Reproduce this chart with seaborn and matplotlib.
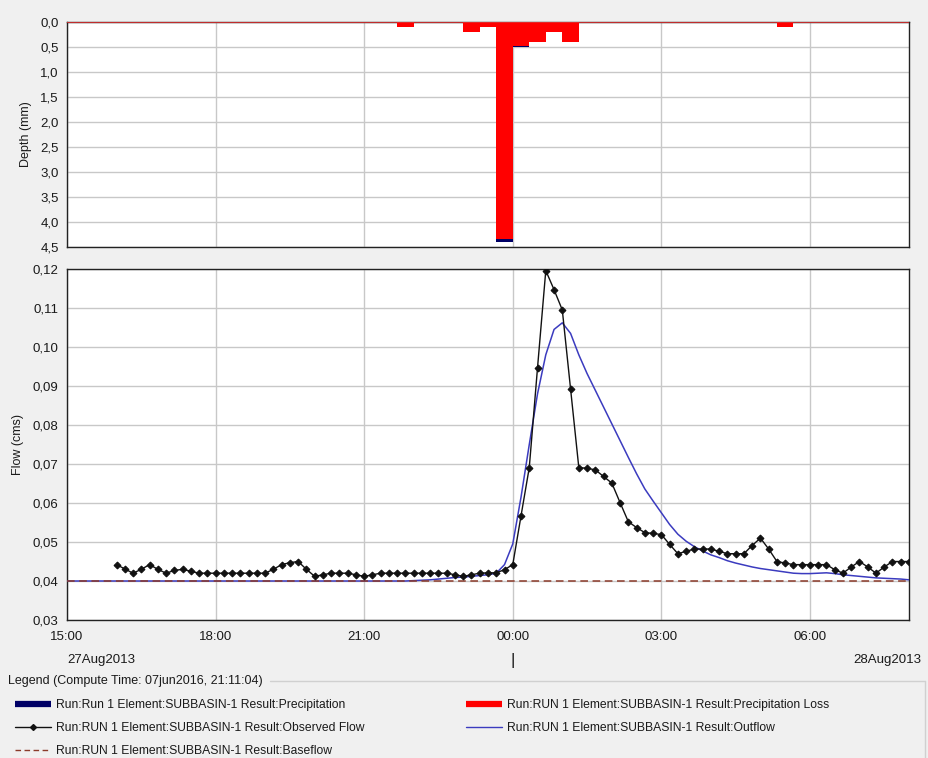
import numpy as np
import pandas as pd
import matplotlib
matplotlib.use("Agg")
import matplotlib.pyplot as plt
import matplotlib.transforms as mtrans
from matplotlib.lines import Line2D
from matplotlib.ticker import FuncFormatter, MultipleLocator
import seaborn as sns

# ---------------- data ----------------
day0 = pd.Timestamp("2013-08-27 00:00")

# Observed flow (cms), every 10 minutes from 27Aug2013 16:00
obs_start = "2013-08-27 16:00"
obs_flow = [
    0.0442, 0.0431, 0.0420, 0.0430, 0.0442, 0.0430,   # 16:00
    0.0420, 0.0427, 0.0430, 0.0425, 0.0420, 0.0420,   # 17:00
    0.0420, 0.0420, 0.0420, 0.0420, 0.0420, 0.0420,   # 18:00
    0.0420, 0.0430, 0.0442, 0.0447, 0.0450, 0.0430,   # 19:00
    0.0412, 0.0416, 0.0420, 0.0420, 0.0420, 0.0416,   # 20:00
    0.0412, 0.0416, 0.0420, 0.0420, 0.0420, 0.0420,   # 21:00
    0.0420, 0.0420, 0.0420, 0.0420, 0.0420, 0.0416,   # 22:00
    0.0412, 0.0416, 0.0420, 0.0421, 0.0421, 0.0429,   # 23:00
    0.0442, 0.0567, 0.0691, 0.0947, 0.1196, 0.1147,   # 00:00
    0.1095, 0.0893, 0.0691, 0.0689, 0.0685, 0.0668,   # 01:00
    0.0651, 0.0601, 0.0552, 0.0537, 0.0524, 0.0522,   # 02:00
    0.0519, 0.0494, 0.0470, 0.0476, 0.0482, 0.0482,   # 03:00
    0.0482, 0.0476, 0.0470, 0.0470, 0.0470, 0.0491,   # 04:00
    0.0510, 0.0482, 0.0450, 0.0446, 0.0442, 0.0442,   # 05:00
    0.0442, 0.0442, 0.0442, 0.0429, 0.0420, 0.0436,   # 06:00
    0.0450, 0.0436, 0.0420, 0.0436, 0.0450, 0.0450,   # 07:00
    0.0450,                                           # 08:00
]

# Simulated outflow (cms)
outflow_first_time = "2013-08-27 15:00"
outflow_first_value = 0.0400
outflow_tail_start = "2013-08-27 21:50"
outflow_tail = [
    0.0400, 0.0401, 0.0402, 0.0403, 0.0405, 0.0407, 0.0409,          # 21:50-22:50
    0.0410, 0.0412, 0.0414, 0.0416, 0.0420, 0.0442,                  # 23:00
    0.0495, 0.0615, 0.0750, 0.0880, 0.0980, 0.1045,                  # 00:00
    0.1062, 0.1035, 0.0980, 0.0932, 0.0889, 0.0846,                  # 01:00
    0.0803, 0.0760, 0.0717, 0.0675, 0.0636, 0.0605,                  # 02:00
    0.0575, 0.0545, 0.0520, 0.0502, 0.0488, 0.0477,                  # 03:00
    0.0467, 0.0460, 0.0452, 0.0446, 0.0441, 0.0436,                  # 04:00
    0.0432, 0.0429, 0.0426, 0.0423, 0.0420, 0.0419,                  # 05:00
    0.0419, 0.0420, 0.0421, 0.0419, 0.0416, 0.0414,                  # 06:00
    0.0412, 0.0410, 0.0408, 0.0407, 0.0406, 0.0405,                  # 07:00
    0.0403,                                                          # 08:00
]

# Baseflow (cms)
base_times = ["2013-08-27 15:00", "2013-08-28 08:00"]
base_flow = [0.04, 0.04]

# Precipitation and precipitation loss (mm), 20-minute intervals (start times)
precip_times = ["2013-08-27 21:40", "2013-08-27 23:00", "2013-08-27 23:20",
                "2013-08-27 23:40", "2013-08-28 00:00", "2013-08-28 00:20",
                "2013-08-28 00:40", "2013-08-28 01:00", "2013-08-28 05:20"]
precip = [0.10, 0.20, 0.10, 4.40, 0.50, 0.40, 0.20, 0.40, 0.10]
precip_loss = [0.10, 0.20, 0.10, 4.34, 0.47, 0.40, 0.20, 0.40, 0.10]

x_ticks_labels = ["15:00", "18:00", "21:00", "00:00", "03:00", "06:00"]
legend_title = "Legend (Compute Time: 07jun2016, 21:11:04)"
labels = {
    "precip": "Run:Run 1 Element:SUBBASIN-1 Result:Precipitation",
    "obs": "Run:RUN 1 Element:SUBBASIN-1 Result:Observed Flow",
    "base": "Run:RUN 1 Element:SUBBASIN-1 Result:Baseflow",
    "loss": "Run:RUN 1 Element:SUBBASIN-1 Result:Precipitation Loss",
    "out": "Run:RUN 1 Element:SUBBASIN-1 Result:Outflow",
}

# ---------------- helpers ----------------
def hours(ts):
    ts = pd.to_datetime(ts)
    return np.asarray((ts - day0) / pd.Timedelta(hours=1), dtype=float)

obs_x = hours(pd.date_range(obs_start, periods=len(obs_flow), freq="10min"))
out_x = np.concatenate([hours([outflow_first_time]),
                        hours(pd.date_range(outflow_tail_start, periods=len(outflow_tail), freq="10min"))])
out_y = np.array([outflow_first_value] + outflow_tail)
base_x = hours(base_times)
pr_x = hours(precip_times)

df_obs = pd.DataFrame({"t": obs_x, "flow": obs_flow})
df_out = pd.DataFrame({"t": out_x, "flow": out_y})
df_base = pd.DataFrame({"t": base_x, "flow": base_flow})

# ---------------- style ----------------
sns.set_style("white")
plt.rcParams["font.family"] = ["Liberation Sans", "DejaVu Sans"]
plt.rcParams["font.size"] = 9

BG = "#f0f0f0"
GRID = "#c8c8c8"
TXT = "#1a1a1a"
fig = plt.figure(figsize=(9.29, 7.58), dpi=100, facecolor=BG)

W, H = 929.0, 758.0
def ax_rect(l, t, r, b):
    return [l / W, 1 - b / H, (r - l) / W, (b - t) / H]

ax_top = fig.add_axes(ax_rect(67, 22, 909, 247))
ax_bot = fig.add_axes(ax_rect(67, 269, 909, 620))

xmin, xmax = 15.0, 32.0
comma = lambda fmt: FuncFormatter(lambda v, p: fmt.format(v).replace(".", ","))

for ax in (ax_top, ax_bot):
    ax.set_facecolor("white")
    ax.set_xlim(xmin, xmax)
    ax.xaxis.set_major_locator(MultipleLocator(3))
    ax.grid(True, color=GRID, lw=1)
    ax.set_axisbelow(True)
    for s in ax.spines.values():
        s.set_color("#222222")
        s.set_linewidth(1)
    ax.tick_params(axis="y", direction="out", length=4, width=1, color="#444444",
                   labelsize=9.5, pad=2, labelcolor=TXT)

# ---- top panel: precipitation ----
bw = 20 / 60
ax_top.bar(pr_x, precip, width=bw, align="edge", color="#000066", lw=0, zorder=2)
ax_top.bar(pr_x, precip_loss, width=bw, align="edge", color="#ff0000", lw=0, zorder=3)
ax_top.axhline(0, color="#e03030", lw=1.2, zorder=4)
ax_top.set_ylim(4.5, 0.0)
ax_top.yaxis.set_major_locator(MultipleLocator(0.5))
ax_top.yaxis.set_major_formatter(comma("{:.1f}"))
ax_top.tick_params(axis="x", bottom=False, labelbottom=False)
ax_top.set_ylabel("Depth (mm)", fontsize=9, labelpad=6, color=TXT)
ax_top.set_xlabel("")

# ---- bottom panel: flows ----
sns.lineplot(data=df_out, x="t", y="flow", ax=ax_bot, color="#3b3bbf", lw=1.1,
             legend=False, zorder=3)
sns.lineplot(data=df_base, x="t", y="flow", ax=ax_bot, color="#8b3a2a", lw=1.1,
             dashes=False, legend=False, zorder=4, linestyle=(0, (5, 3)))
sns.lineplot(data=df_obs, x="t", y="flow", ax=ax_bot, color="#111111", lw=1.0,
             marker="D", markersize=3.5, markeredgecolor="#111111", legend=False, zorder=5)
ax_bot.set_ylim(0.03, 0.12)
ax_bot.yaxis.set_major_locator(MultipleLocator(0.01))
ax_bot.yaxis.set_major_formatter(comma("{:.2f}"))
ax_bot.set_xticks(np.arange(15, 31, 3))
ax_bot.set_xticklabels(x_ticks_labels)
ax_bot.tick_params(axis="x", direction="out", length=5, width=1, color="#444444",
                   labelsize=9.5, pad=3, labelcolor=TXT)
ax_bot.set_ylabel("Flow (cms)", fontsize=9, labelpad=6, color=TXT)
ax_bot.set_xlabel("")

# date labels under the time axis
tr = mtrans.blended_transform_factory(ax_bot.transData, fig.transFigure)
ydate = 1 - 660 / H
ax_bot.text(15.0, ydate, "27Aug2013", transform=tr, ha="left", va="center",
            fontsize=9.5, color=TXT)
ax_bot.text(24.0, ydate, "|", transform=tr, ha="center", va="center",
            fontsize=12, color=TXT)
fig.text(921 / W, ydate, "28Aug2013", ha="right", va="center", fontsize=9.5, color=TXT)

# ---- legend area ----
fig.text(8 / W, 1 - 681 / H, legend_title, ha="left", va="center", fontsize=9, color=TXT)
fig.add_artist(Line2D([270 / W, 925 / W], [1 - 681 / H, 1 - 681 / H], color="#d0d0d0", lw=1))
fig.add_artist(Line2D([925 / W, 925 / W], [1 - 681 / H, 0], color="#d0d0d0", lw=1))

h_precip = Line2D([], [], color="#000066", lw=4.5, solid_capstyle="butt")
h_obs = Line2D([], [], color="#111111", lw=1, marker="D", markersize=3)
h_base = Line2D([], [], color="#8b3a2a", lw=1, linestyle=(0, (4, 2.5)))
h_loss = Line2D([], [], color="#ff0000", lw=4.5, solid_capstyle="butt")
h_out = Line2D([], [], color="#3b3bbf", lw=1)

leg_kw = dict(frameon=False, fontsize=8.7, handlelength=3.0, handletextpad=0.4,
              labelspacing=0.9, borderpad=0, borderaxespad=0, loc="upper left",
              numpoints=1, labelcolor=TXT)
leg1 = fig.legend([h_precip, h_obs, h_base], [labels["precip"], labels["obs"], labels["base"]],
                  bbox_to_anchor=(15 / W, 1 - 699 / H), **leg_kw)
leg2 = fig.legend([h_loss, h_out], [labels["loss"], labels["out"]],
                  bbox_to_anchor=(466 / W, 1 - 699 / H), **leg_kw)

fig.savefig("out.png", dpi=100, facecolor=BG)
